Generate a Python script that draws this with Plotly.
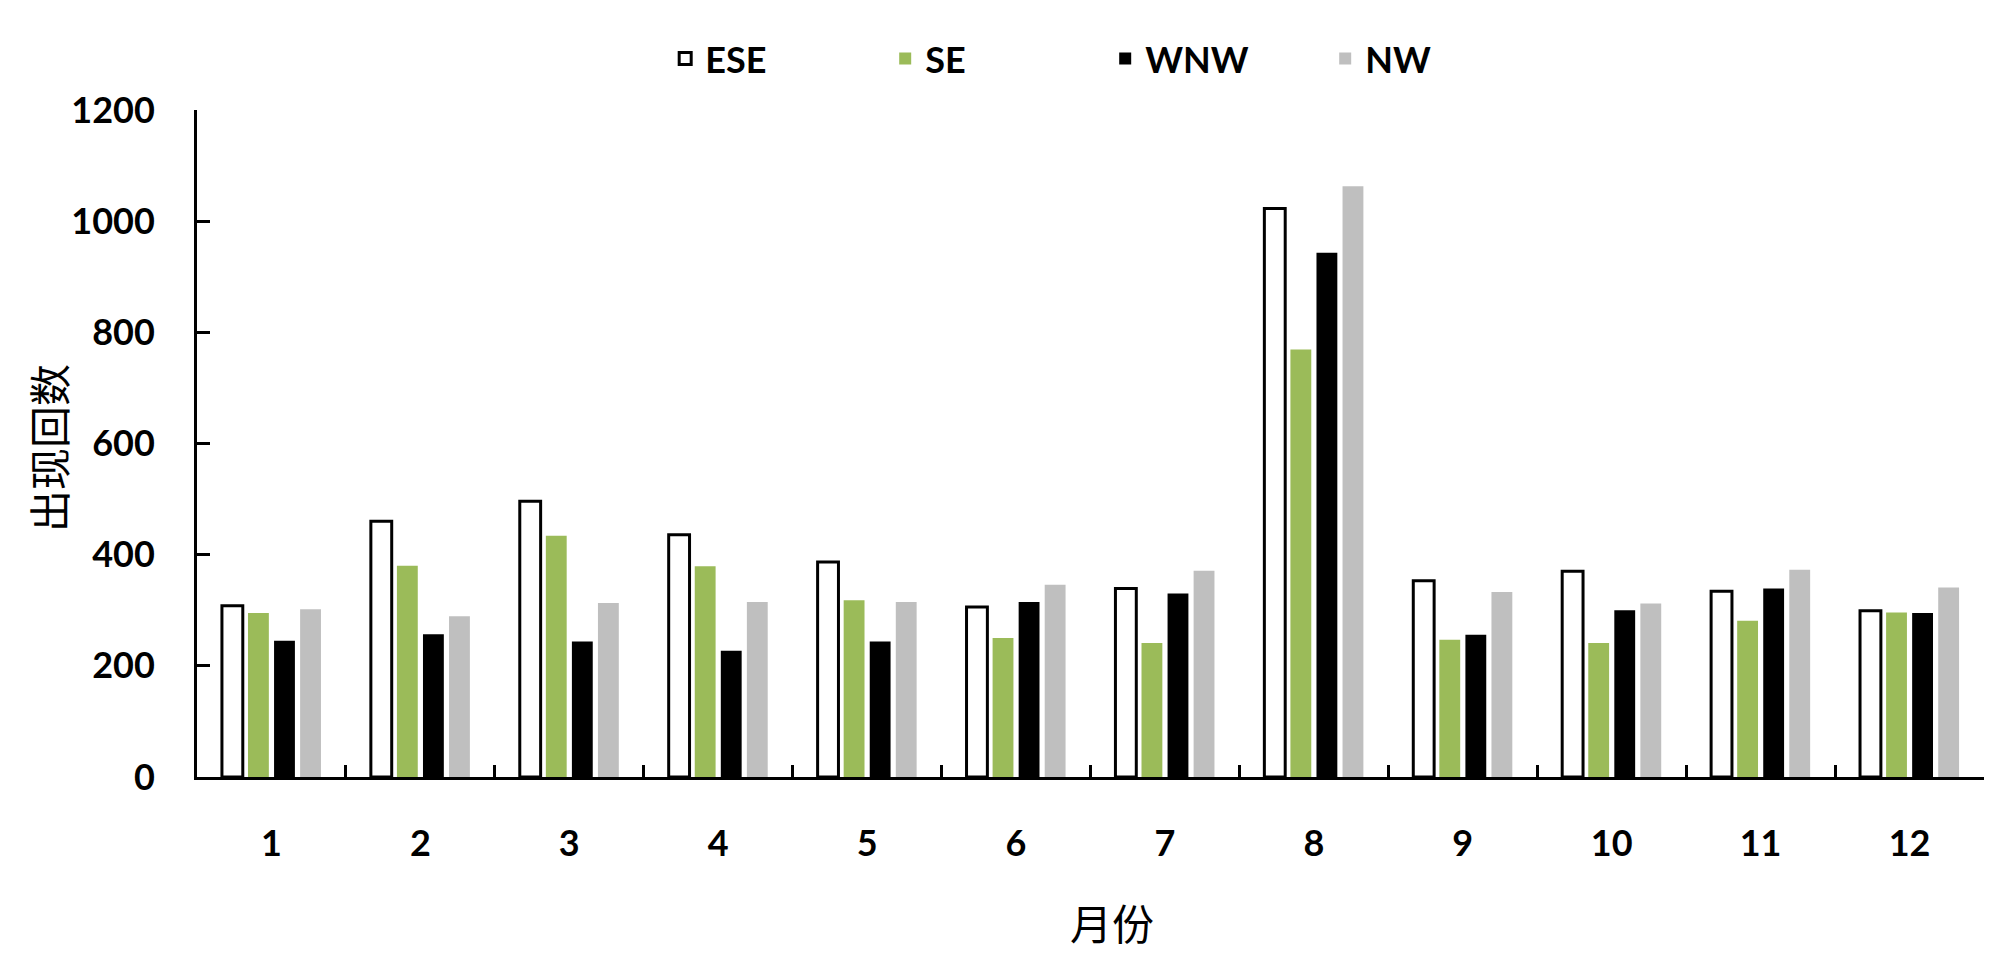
import plotly.graph_objects as go

months = ["1", "2", "3", "4", "5", "6", "7", "8", "9", "10", "11", "12"]
ese = [308, 460, 496, 436, 387, 306, 339, 1023, 353, 370, 334, 299]
se = [295, 380, 434, 379, 318, 250, 241, 769, 247, 241, 281, 296]
wnw = [245, 257, 244, 227, 244, 315, 330, 943, 256, 300, 339, 295]
nw = [302, 289, 313, 315, 315, 346, 371, 1063, 333, 312, 373, 341]
y_ticks = [0, 200, 400, 600, 800, 1000, 1200]

FONT = "Lato"
CJK = "Noto Sans CJK SC"
fig = go.Figure()
fig.add_trace(go.Bar(name="ESE", x=months, y=ese,
                     marker=dict(color="white", line=dict(color="black", width=3))))
fig.add_trace(go.Bar(name="SE", x=months, y=se,
                     marker=dict(color="#9BBB59", line=dict(width=0))))
fig.add_trace(go.Bar(name="WNW", x=months, y=wnw,
                     marker=dict(color="black", line=dict(width=0))))
fig.add_trace(go.Bar(name="NW", x=months, y=nw,
                     marker=dict(color="#BFBFBF", line=dict(width=0))))

fig.update_layout(
    width=2000, height=961,
    paper_bgcolor="white", plot_bgcolor="white",
    margin=dict(l=189, r=24, t=102, b=192, autoexpand=False),
    barmode="group", bargap=0.3, bargroupgap=0.2,
    font=dict(family=FONT, size=36, color="black", weight="bold"),
    legend=dict(orientation="h", x=0.262, xanchor="left", y=1.077, yanchor="middle",
                entrywidth=175, entrywidthmode="pixels",
                font=dict(family=FONT, size=36, color="black", weight="bold"),
                itemclick=False),
    showlegend=True,
    annotations=[
        dict(text="月份", xref="paper", yref="paper", x=0.512, y=-0.216,
             xanchor="center", yanchor="middle", showarrow=False,
             font=dict(family=CJK, size=42, color="black", weight="normal")),
        dict(text="出现回数", xref="paper", yref="paper", x=-0.084, y=0.493,
             xanchor="center", yanchor="middle", showarrow=False, textangle=-90,
             font=dict(family=CJK, size=42, color="black", weight="normal")),
    ],
)
fig.update_xaxes(
    type="category", showline=True, linecolor="black", linewidth=3,
    ticks="inside", ticklen=12, tickwidth=3, tickcolor="black",
    tickson="boundaries", showgrid=False, ticklabelstandoff=33, automargin=False,
)
fig.update_yaxes(
    range=[0, 1200], tickvals=y_ticks, showline=True, linecolor="black", linewidth=3,
    ticks="inside", ticklen=13, tickwidth=3, tickcolor="black",
    showgrid=False, zeroline=False, ticklabelstandoff=32, automargin=False,
)
fig.write_html("out.html")
